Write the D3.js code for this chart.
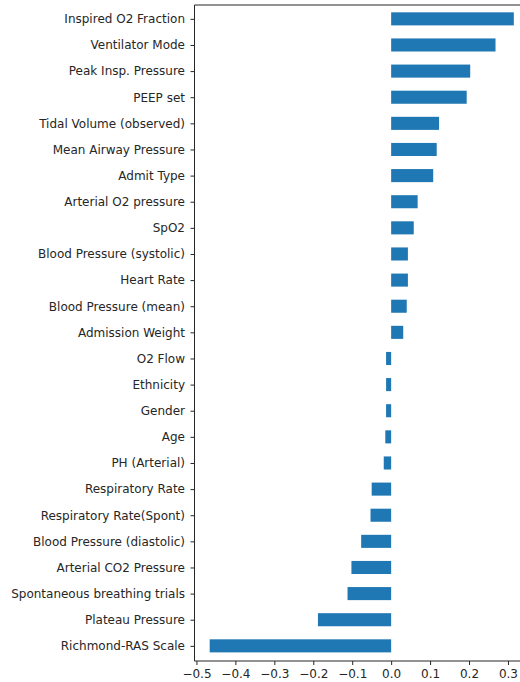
<!DOCTYPE html>
<meta charset="utf-8">
<script src="https://d3js.org/d3.v7.min.js"></script>
<style>
  body { margin: 0; background: #fff; }
  text { font-family: "DejaVu Sans", sans-serif; }
</style>
<div id="chart"></div>
<script>
// features, top of the chart first
var features = [
  "Inspired O2 Fraction", "Ventilator Mode", "Peak Insp. Pressure", "PEEP set",
  "Tidal Volume (observed)", "Mean Airway Pressure", "Admit Type", "Arterial O2 pressure",
  "SpO2", "Blood Pressure (systolic)", "Heart Rate", "Blood Pressure (mean)",
  "Admission Weight", "O2 Flow", "Ethnicity", "Gender", "Age", "PH (Arterial)",
  "Respiratory Rate", "Respiratory Rate(Spont)", "Blood Pressure (diastolic)",
  "Arterial CO2 Pressure", "Spontaneous breathing trials", "Plateau Pressure",
  "Richmond-RAS Scale"
];
var coefs = [
  0.315, 0.268, 0.203, 0.194,
  0.123, 0.117, 0.108, 0.068,
  0.058, 0.043, 0.043, 0.040,
  0.031, -0.013, -0.013, -0.013, -0.015, -0.019,
  -0.050, -0.053, -0.077,
  -0.102, -0.112, -0.188,
  -0.466
];
var xTicks = [-0.5, -0.4, -0.3, -0.2, -0.1, 0.0, 0.1, 0.2, 0.3];

var W = 520, H = 682;
// plot box (right edge sits outside the picture, as in the original crop)
var plot = {left: 194.5, top: 5, right: 529, bottom: 661};
var n = features.length;

var svg = d3.select("#chart").append("svg")
  .attr("width", W).attr("height", H);

var x = d3.scaleLinear().domain([-0.505, 0.354]).range([plot.left, plot.right]);
// index 0 = top bar, index n-1 = bottom bar
var y = d3.scaleLinear().domain([-0.53, n - 1 + 0.58]).range([plot.top, plot.bottom]);
var barH = y(0.5) - y(0);

svg.append("g").selectAll("rect")
  .data(coefs)
  .enter().append("rect")
    .attr("x", function(d) { return x(Math.min(0, d)); })
    .attr("y", function(d, i) { return y(i) - barH / 2; })
    .attr("width", function(d) { return Math.abs(x(d) - x(0)); })
    .attr("height", barH)
    .attr("fill", "#1f77b4");

// y axis
var ya = svg.append("g")
  .attr("transform", "translate(" + plot.left + ",0)")
  .call(d3.axisLeft(y).tickValues(d3.range(n)).tickFormat(function(i) { return features[i]; })
    .tickSize(4).tickPadding(5.5).tickSizeOuter(0));
ya.select(".domain").remove();

// x axis
var xa = svg.append("g")
  .attr("transform", "translate(0," + plot.bottom + ")")
  .call(d3.axisBottom(x).tickValues(xTicks).tickFormat(d3.format(".1f"))
    .tickSize(4).tickPadding(4.5).tickSizeOuter(0));
xa.select(".domain").remove();

svg.selectAll(".tick text").attr("font-size", 12).attr("fill", "#262626")
  .style("font-family", "DejaVu Sans, sans-serif");
svg.selectAll(".tick line").attr("stroke", "#262626");

// spines
var sp = svg.append("g").attr("stroke", "#262626").attr("stroke-width", 1).attr("fill", "none");
sp.append("line").attr("x1", plot.left).attr("x2", plot.left).attr("y1", plot.top).attr("y2", plot.bottom);
sp.append("line").attr("x1", plot.left).attr("x2", W).attr("y1", plot.bottom).attr("y2", plot.bottom);
sp.append("line").attr("x1", plot.left).attr("x2", W).attr("y1", plot.top).attr("y2", plot.top);
</script>
